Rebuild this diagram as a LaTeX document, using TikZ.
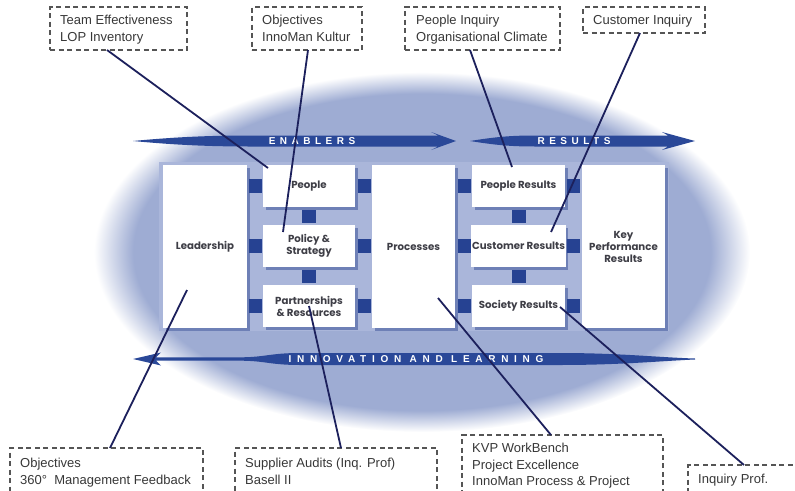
\documentclass[tikz,border=0pt]{standalone}
\usepackage{fontspec}
\setmainfont{Liberation Sans}
\newfontfamily\boxfont{Poppins}
\newfontfamily\arrfont[LetterSpace=45]{Liberation Sans}
\newfontfamily\arrfontw[LetterSpace=57]{Liberation Sans}
\usetikzlibrary{shadows,calc}
\definecolor{ellcol}{RGB}{158,172,211}
\definecolor{framecol}{RGB}{170,182,218}
\definecolor{sqcol}{RGB}{38,66,146}
\definecolor{arrcol}{RGB}{42,72,152}
\definecolor{linecol}{RGB}{28,32,92}
\definecolor{shcol}{RGB}{110,128,182}
\definecolor{txtcol}{RGB}{55,55,55}
\definecolor{dashcol}{RGB}{85,85,85}
\definecolor{boxtxt}{RGB}{62,62,70}
\pgfdeclareradialshading{ellshade}{\pgfpointorigin}{color(0bp)=(ellcol); color(22bp)=(ellcol); color(25bp)=(white); color(50bp)=(white)}
\begin{document}
\begin{tikzpicture}[x=1pt,y=-1pt,
  dbox/.style={draw=dashcol, dash pattern=on 5pt off 3.5pt, line width=1.3pt, inner sep=0pt, outer sep=0pt, anchor=north west},
  dtext/.style={anchor=north west, inner sep=0pt, align=left, text=txtcol, font=\fontsize{13}{16.5}\selectfont},
  mbox/.style={fill=white, inner sep=1pt, outer sep=0pt, align=center, text=boxtxt,
    font=\boxfont\bfseries\fontsize{10.2}{12}\selectfont,
    drop shadow={shadow xshift=2.5pt, shadow yshift=-2.5pt, fill=shcol, opacity=1}},
  sq/.style={fill=sqcol, inner sep=0pt, minimum width=13, minimum height=14},
  vsq/.style={fill=sqcol, inner sep=0pt, minimum width=14, minimum height=13},
  arrtxt/.style={text=white, inner sep=0pt, font=\arrfont\bfseries\fontsize{10}{10}\selectfont},
  arrtxtw/.style={text=white, inner sep=0pt, font=\arrfontw\bfseries\fontsize{10}{10}\selectfont},
  conn/.style={draw=linecol, line width=1.8pt}]
\useasboundingbox (0,0) rectangle (795,490);
\clip (0,0) rectangle (795,490);
% background ellipse
\shade[shading=ellshade] (422,252) ellipse [x radius=328, y radius=180];
\fill[framecol] (159,162) rectangle (669,331);
% arrows
\fill[arrcol] (133,141) .. controls (175,137) and (210,135.5) .. (250,135.5) -- (438,135.5) -- (431,132) -- (456,141) -- (431,150) -- (438,146.5) -- (250,146.5) .. controls (210,146.5) and (175,145) .. (133,141) -- cycle;
\fill[arrcol] (470,141) .. controls (495,137) and (510,135.5) .. (535,135.5) -- (668,135.5) -- (662,132) -- (695,141) -- (662,150) -- (668,146.5) -- (535,146.5) .. controls (510,146.5) and (495,145) .. (470,141) -- cycle;
\fill[arrcol] (133,359) -- (161,352.5) -- (156,357.3) -- (240,357.3) .. controls (265,357.3) and (270,353) .. (300,353) -- (560,353) .. controls (620,353) and (660,357.5) .. (695,358.5) -- (695,359.5) .. controls (660,361) and (620,365) .. (560,365) -- (300,365) .. controls (270,365) and (265,360.7) .. (240,360.7) -- (156,360.7) -- (161,365.5) -- cycle;
\node[arrtxt] (en) at (312,141) {ENABLERS};
\node[arrtxt] (re) at (574,141) {RESULTS};
\node[arrtxtw] (il) at (416,359) {INNOVATION AND LEARNING};
% main boxes
\node[mbox, minimum width=84, minimum height=163] (lead) at (205,246.5) {Leadership};
\node[mbox, minimum width=92, minimum height=42] (peop) at (309,186) {People};
\node[mbox, minimum width=92, minimum height=42] (pol) at (309,246) {Policy \&\\Strategy};
\node[mbox, minimum width=92, minimum height=42] (part) at (309,306) {Partnerships\\\& Resources};
\node[mbox, minimum width=83, minimum height=163] (proc) at (413.5,246.5) {Processes};
\node[mbox, minimum width=93, minimum height=42] (pres) at (518.5,186) {People Results};
\node[mbox, minimum width=93, minimum height=42] (cres) at (518.5,246) {Customer Results};
\node[mbox, minimum width=93, minimum height=42] (sres) at (518.5,306) {Society Results};
\node[mbox, minimum width=83, minimum height=163] (kpr) at (623.5,246.5) {Key\\Performance\\Results};
% connecting squares
\foreach \yy/\nm in {186/a,246/b,306/c}{
  \node[sq] (s1\nm) at (255.5,\yy) {};
  \node[sq] (s2\nm) at (364,\yy) {};
  \node[sq] (s3\nm) at (464,\yy) {};
  \node[sq] (s4\nm) at (573.5,\yy) {};
}
\node[vsq] (v1) at (309,216.5) {};
\node[vsq] (v2) at (309,276.5) {};
\node[vsq] (v3) at (518.5,216.5) {};
\node[vsq] (v4) at (518.5,276.5) {};
% dashed note boxes
\node[dbox, minimum width=137, minimum height=43] (tA) at (50,7) {};
\node[dtext] (tAt) at (60,15) {Team Effectiveness\\LOP Inventory};
\node[dbox, minimum width=110, minimum height=43] (tB) at (252,7) {};
\node[dtext] (tBt) at (262,15) {Objectives\\InnoMan Kultur};
\node[dbox, minimum width=155, minimum height=43] (tC) at (405,7) {};
\node[dtext] (tCt) at (416,15) {People Inquiry\\Organisational Climate};
\node[dbox, minimum width=122, minimum height=26] (tD) at (583,7) {};
\node[dtext] (tDt) at (593,15) {Customer Inquiry};
\node[dbox, minimum width=193, minimum height=60] (bA) at (10,448) {};
\node[dtext] (bAt) at (20,458) {Objectives\\360°\ \ Management Feedback};
\node[dbox, minimum width=202, minimum height=60] (bB) at (235,448) {};
\node[dtext] (bBt) at (245,458) {Supplier Audits (Inq. Prof)\\Basell II};
\node[dbox, minimum width=201, minimum height=70] (bC) at (462,435) {};
\node[dtext] (bCt) at (472,443) {KVP WorkBench\\Project Excellence\\InnoMan Process \& Project};
\node[dbox, minimum width=130, minimum height=40] (bD) at (688,465) {};
\node[dtext] (bDt) at (698,474) {Inquiry Prof.};
% connector end points
\coordinate (e1) at ([xshift=5pt,yshift=-3pt]peop.north west);
\coordinate (e2) at ([xshift=20pt,yshift=-7pt]pol.north west);
\coordinate (e3) at ([xshift=40pt,yshift=-2pt]pres.north west);
\coordinate (e4) at ([xshift=80pt,yshift=-7pt]cres.north west);
\coordinate (e5) at ([xshift=-18pt,yshift=-43.5pt]lead.center);
\coordinate (e6) at (part.center);
\coordinate (e7) at ([xshift=24.5pt,yshift=-51.5pt]proc.center);
\coordinate (e8) at ([xshift=41.5pt,yshift=-1pt]sres.center);
% connectors
\draw[conn] ([xshift=57pt]tA.south west) -- (e1);
\draw[conn] ([xshift=56pt]tB.south west) -- (e2);
\draw[conn] ([xshift=65pt]tC.south west) -- (e3);
\draw[conn] ([xshift=57pt]tD.south west) -- (e4);
\draw[conn] ([xshift=100pt]bA.north west) -- (e5);
\draw[conn] ([xshift=106pt]bB.north west) -- (e6);
\draw[conn] ([xshift=89pt]bC.north west) -- (e7);
\draw[conn] ([xshift=56pt]bD.north west) -- (e8);
\end{tikzpicture}
\end{document}
